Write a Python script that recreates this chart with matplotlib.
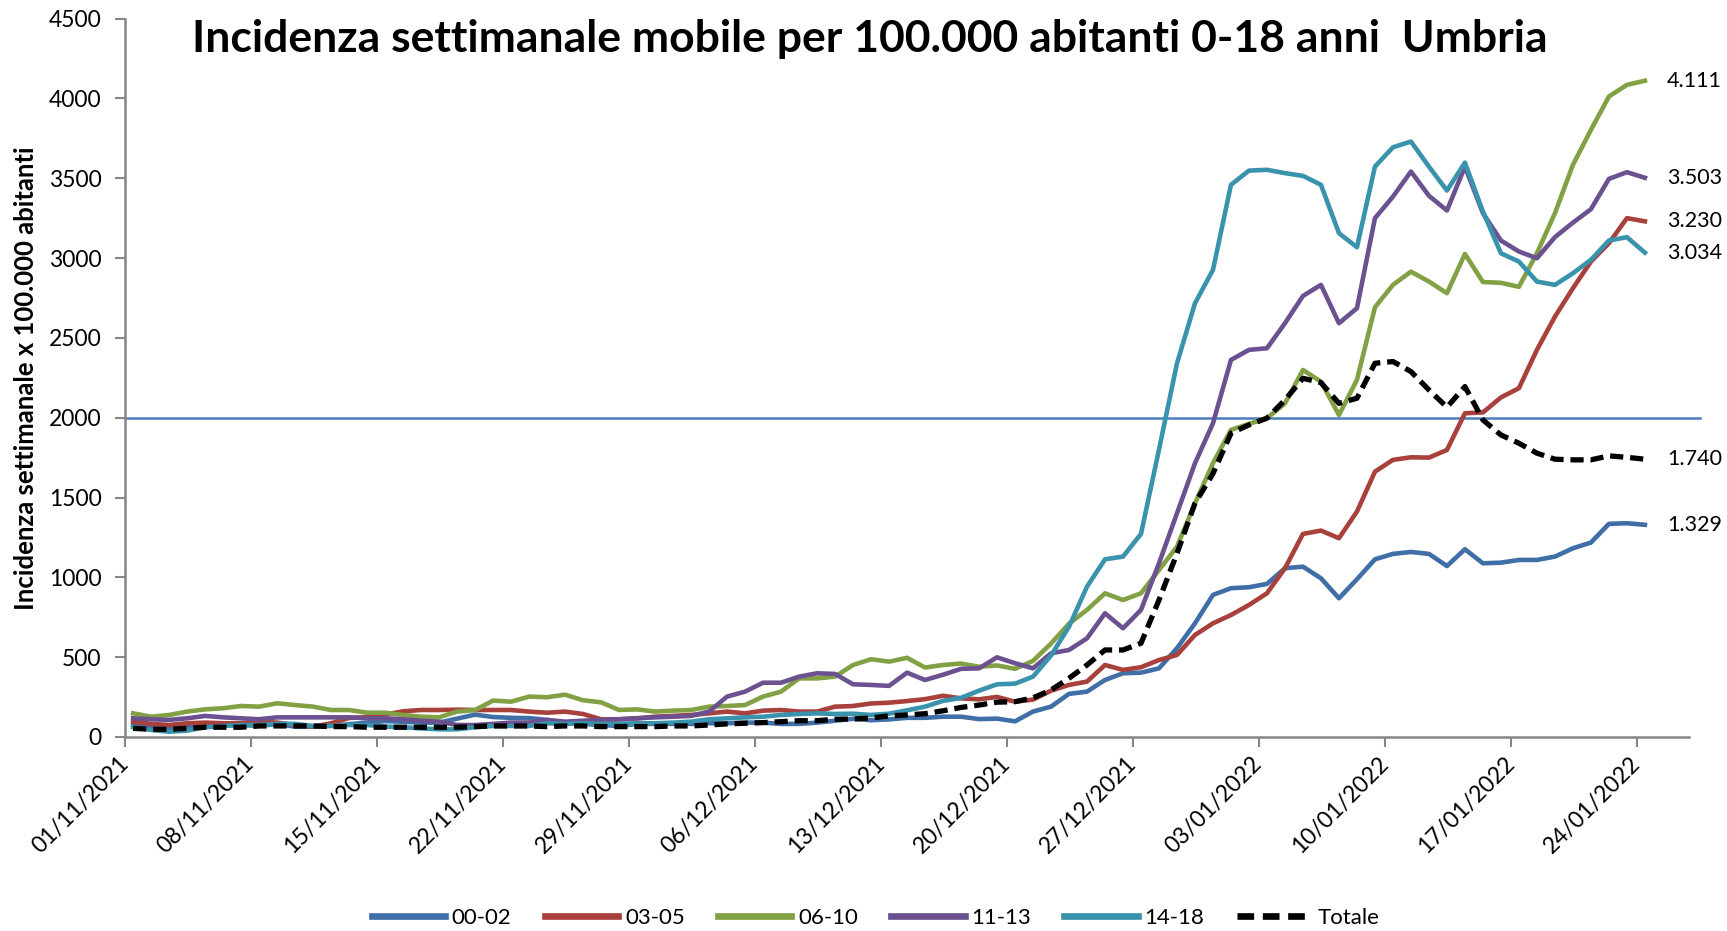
import numpy as np
import matplotlib.pyplot as plt
import pandas as pd

plt.rcParams['font.family'] = ['Lato', 'DejaVu Sans']

# giorni dal 01/11/2021 al 24/01/2022
giorni = pd.date_range('2021-11-01', periods=85, freq='D')

eta_00_02 = [75, 60, 55, 60, 70, 75, 75, 70, 80, 65, 65, 70, 80, 90, 100, 95, 90, 90, 115, 140, 125, 120, 118,
             107, 86, 82, 75, 69, 82, 82, 82, 82, 86, 86, 90, 90, 82, 82, 90, 102, 114, 105, 110, 120, 120, 127, 127, 112, 115, 98, 159,
             190, 270, 284, 357, 399, 403, 430, 556, 712, 890, 932, 938, 959, 1057, 1067, 994, 869, 988, 1113, 1147,
             1159, 1147, 1071, 1176, 1088, 1092, 1109, 1109, 1130, 1182, 1218, 1335, 1339, 1329]
eta_03_05 = [96, 82, 75, 86, 90, 86, 86, 96, 90, 75, 65, 86, 119, 125, 140, 161, 169, 169, 171, 169, 169, 169, 159,
             152, 159, 144, 111, 111, 117, 127, 132, 138, 148, 159, 148, 165, 169, 159, 159, 190, 194, 210, 215, 225, 237, 258, 242, 236, 251, 221, 234,
             290, 326, 347, 451, 420, 437, 482, 514, 639, 712, 764, 827, 900, 1057, 1272, 1293, 1245, 1412, 1662, 1736,
             1752, 1750, 1798, 2028, 2033, 2127, 2185, 2425, 2633, 2811, 2978, 3093, 3250, 3230]
eta_06_10 = [148, 127, 138, 159, 173, 180, 194, 190, 211, 200, 190, 169, 169, 152, 152, 138, 127, 123, 159, 169, 228, 221, 253,
             249, 265, 230, 217, 169, 173, 159, 165, 169, 190, 194, 200, 253, 284, 367, 367, 378, 451, 487, 472, 496, 435, 451, 460, 440, 448, 427, 477,
             585, 710, 796, 900, 858, 900, 1046, 1192, 1464, 1715, 1924, 1961, 1997, 2090, 2299, 2226, 2017, 2237, 2692, 2832,
             2915, 2853, 2780, 3026, 2850, 2845, 2820, 3030, 3281, 3584, 3803, 4012, 4085, 4111]
eta_11_13 = [117, 111, 107, 117, 132, 123, 117, 111, 123, 123, 123, 123, 123, 117, 117, 111, 102, 96, 75, 75, 82, 90, 90,
             107, 96, 102, 107, 111, 117, 123, 127, 132, 159, 253, 284, 340, 340, 378, 399, 395, 330, 326, 320, 403, 357, 390, 427, 430, 499, 462, 430,
             524, 545, 618, 775, 681, 796, 1088, 1401, 1715, 1965, 2362, 2425, 2435, 2592, 2763, 2832, 2592, 2686, 3250, 3385,
             3542, 3390, 3298, 3573, 3281, 3110, 3041, 2999, 3131, 3222, 3306, 3496, 3538, 3503]
eta_14_18 = [61, 44, 33, 40, 61, 69, 75, 75, 82, 82, 69, 69, 75, 75, 65, 61, 54, 48, 48, 61, 69, 69, 69,
             86, 82, 86, 82, 82, 86, 86, 90, 96, 111, 117, 123, 127, 138, 144, 148, 144, 146, 138, 146, 167, 190, 226, 245, 290, 330, 334, 378,
             510, 691, 942, 1113, 1130, 1272, 1800, 2340, 2717, 2926, 3459, 3548, 3553, 3532, 3515, 3459, 3156, 3068, 3573, 3694,
             3730, 3573, 3423, 3598, 3291, 3030, 2978, 2853, 2832, 2905, 2989, 3110, 3131, 3034]
totale = [54, 48, 48, 54, 61, 61, 61, 69, 69, 69, 69, 65, 65, 61, 61, 61, 61, 61, 61, 65, 69, 69, 69,
          65, 69, 69, 65, 65, 65, 65, 69, 69, 75, 82, 86, 90, 96, 102, 102, 111, 113, 119, 132, 138, 146, 164, 185, 200, 218, 221, 245,
          294, 368, 451, 545, 545, 587, 858, 1150, 1464, 1650, 1903, 1955, 1997, 2111, 2247, 2220, 2090, 2122, 2341, 2352,
          2289, 2174, 2066, 2195, 1986, 1892, 1840, 1778, 1740, 1736, 1736, 1761, 1752, 1740]

serie = ['00-02', '03-05', '06-10', '11-13', '14-18', 'Totale']
valori = [eta_00_02, eta_03_05, eta_06_10, eta_11_13, eta_14_18, totale]
colori = ['#3F6FA6', '#A8403C', '#82A145', '#6B5190', '#3A93AC', 'black']
soglia = 2000

fig = plt.figure(figsize=(17.27, 9.31), dpi=100)
ax = fig.add_axes([0.0724, 0.2084, 0.9056, 0.7716])

x = np.arange(len(giorni)) + 0.45
for nome, v, c in zip(serie, valori, colori):
    if nome == 'Totale':
        ax.plot(x, v, color=c, lw=3.8, ls=(0, (2.5, 1.3)), label=nome, zorder=4)
    else:
        ax.plot(x, v, color=c, lw=3.3, label=nome, zorder=3)
    ax.annotate(f"{v[-1]:,}".replace(',', '.'), (x[-1], v[-1]), xytext=(16, 0),
                textcoords='offset points', va='center', ha='left', fontsize=15.5, annotation_clip=False)

ax.axhline(soglia, xmin=0, xmax=1.007, color='#4A7EBB', lw=1.8, clip_on=False, zorder=2)

ax.set_xlim(0, 86.9)
ax.set_ylim(0, 4500)
ax.set_yticks(np.arange(0, 4501, 500))
ax.set_yticklabels([str(t) for t in range(0, 4501, 500)], fontsize=16.5)
tick_idx = np.arange(0, 85, 7)
ax.set_xticks(tick_idx)
ax.set_xticklabels([giorni[i].strftime('%d/%m/%Y') for i in tick_idx], rotation=45,
                   ha='right', va='center', rotation_mode='anchor', fontsize=16.5)
ax.tick_params(axis='both', direction='out', length=7, width=1.5, color='#868686')
ax.tick_params(axis='y', pad=10)
ax.tick_params(axis='x', pad=10)
for s in ['top', 'right']:
    ax.spines[s].set_visible(False)
for s in ['left', 'bottom']:
    ax.spines[s].set_color('#868686')
    ax.spines[s].set_linewidth(1.8)

ax.set_ylabel('Incidenza settimanale x 100.000 abitanti', fontsize=18.5, fontweight='bold', labelpad=8)
fig.text(0.5035, 0.958, 'Incidenza settimanale mobile per 100.000 abitanti 0-18 anni  Umbria',
         ha='center', va='center', fontsize=32, fontweight='bold')

leg = fig.legend(loc='center', bbox_to_anchor=(0.507, 0.0145), ncol=6, frameon=False, fontsize=16,
                 handlelength=3.3, handletextpad=0.3, columnspacing=1.5)
for h in leg.get_lines():
    h.set_linewidth(4.8)

plt.savefig('out.png', dpi=100)
